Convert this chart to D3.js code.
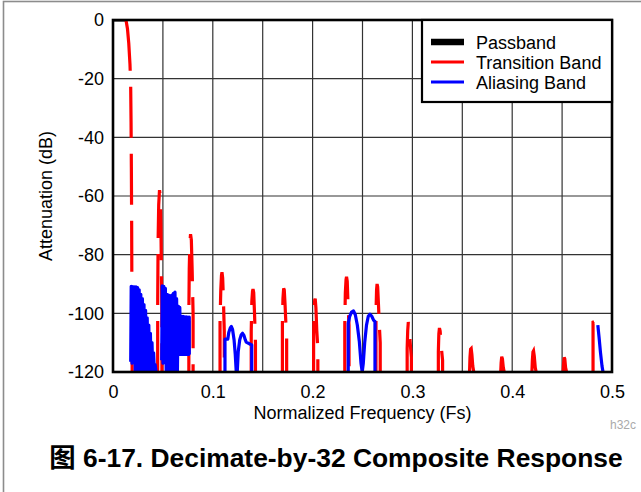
<!DOCTYPE html>
<html>
<head>
<meta charset="utf-8">
<script src="https://cdn.jsdelivr.net/npm/d3@7"></script>
<style>
body { margin: 0; background: #fff; }
svg text { font-family: "Liberation Sans", Arial, "Noto Sans CJK SC", sans-serif; }
</style>
</head>
<body>
<svg id="chart" width="641" height="492"></svg>
<script>
// Axis ticks and grid
const xTicks = [0, 0.1, 0.2, 0.3, 0.4, 0.5];
const yTicks = [0, -20, -40, -60, -80, -100, -120];
const xGrid = [0.05, 0.1, 0.15, 0.2, 0.25, 0.3, 0.35, 0.4, 0.45];
const yGrid = [-20, -40, -60, -80, -100];

// Passband (sits on the 0 dB border)
const passband = [[0, 0], [0.0135, 0]];

// Transition band segments [freq, dB]
const transitionBand = [
    [[0.0130, 0], [0.0145, -3], [0.0158, -8], [0.0170, -15], [0.0177, -22], [0.0181, -35], [0.0184, -50], [0.0187, -70], [0.0189, -90], [0.0191, -110], [0.0192, -120]],
    [[0.04475, -120], [0.0448, -95], [0.0452, -75], [0.0458, -63], [0.0466, -58], [0.0474, -60], [0.0480, -70], [0.0485, -85], [0.0490, -100], [0.0490, -120]],
    [[0.0760, -120], [0.0760, -100], [0.0764, -85], [0.0770, -76], [0.0777, -73], [0.0785, -75], [0.0793, -85], [0.08025, -100], [0.08025, -120]],
    [[0.10725, -120], [0.10725, -103], [0.1080, -92], [0.1087, -87], [0.1092, -86], [0.1099, -88], [0.1107, -96], [0.1115, -106], [0.1115, -120]],
    [[0.1385, -120], [0.1385, -106], [0.1391, -96], [0.1398, -92.5], [0.1403, -91.7], [0.1410, -93], [0.1418, -100], [0.14275, -110], [0.14275, -120]],
    [[0.16975, -120], [0.16975, -103], [0.1703, -95], [0.1710, -91.5], [0.1716, -92], [0.1724, -97], [0.1733, -104], [0.1740, -108], [0.1740, -120]],
    [[0.2010, -120], [0.2010, -108], [0.2015, -99], [0.2021, -95.5], [0.2026, -95], [0.2033, -98], [0.2042, -106], [0.20525, -112], [0.20525, -120]],
    [[0.23225, -120], [0.23225, -104], [0.2328, -93], [0.2335, -88.5], [0.2340, -87.5], [0.2347, -89], [0.2355, -97], [0.2365, -104], [0.2365, -120]],
    [[0.2635, -120], [0.2635, -100], [0.2641, -92], [0.2646, -90], [0.2652, -91], [0.2660, -97], [0.2670, -105], [0.26775, -110], [0.26775, -120]],
    [[0.29475, -120], [0.29475, -112], [0.2953, -106], [0.2959, -103], [0.2966, -104], [0.2975, -109], [0.2990, -115], [0.2990, -120]],
    [[0.3260, -120], [0.3260, -113], [0.3265, -107], [0.3271, -105], [0.3278, -106], [0.3288, -111], [0.33025, -116], [0.33025, -120]],
    [[0.35725, -120], [0.3577, -115], [0.3583, -112.2], [0.3589, -112], [0.3596, -114], [0.3605, -118], [0.3615, -120]],
    [[0.3885, -120], [0.3889, -117], [0.3895, -114.8], [0.3902, -115.5], [0.3911, -118.5], [0.3920, -120]],
    [[0.41975, -120], [0.4202, -116], [0.4208, -113.2], [0.4214, -112.8], [0.4221, -114.5], [0.4231, -118.5], [0.4240, -120]],
    [[0.4510, -120], [0.4515, -117], [0.4521, -115], [0.4527, -115.5], [0.4535, -118.5], [0.4545, -120]],
    [[0.4810, -120], [0.4810, -103], [0.4825, -102.8], [0.4840, -102], [0.4852, -101.5], [0.4860, -102.5], [0.4865, -104]]
];

// Aliasing band segments [freq, dB]
const aliasingBand = [
    [[0.01774, -116.5], [0.01824, -90.8], [0.01904, -117], [0.01984, -90.9], [0.02064, -116], [0.02144, -91], [0.02224, -120], [0.02305, -91], [0.02385, -120], [0.02465, -91.2], [0.02545, -114], [0.02625, -92], [0.02705, -120], [0.02786, -93.5], [0.02866, -120], [0.02946, -95], [0.03026, -120], [0.03106, -97], [0.03186, -118], [0.03267, -99], [0.03347, -120], [0.03427, -101.5], [0.03507, -120], [0.03587, -104], [0.03667, -120], [0.03747, -106.8], [0.03828, -120], [0.03908, -110], [0.03988, -120], [0.04068, -113.5], [0.04148, -120], [0.04228, -117.5], [0.04309, -120]],
    [[0.04880, -116], [0.04930, -90.6], [0.05010, -117], [0.05090, -90.8], [0.05170, -116], [0.05250, -91.5], [0.05331, -120], [0.05411, -93.5], [0.05491, -120], [0.05571, -93.8], [0.05651, -120], [0.05731, -94], [0.05812, -120], [0.05892, -93.8], [0.05972, -120], [0.06052, -93.2], [0.06132, -120], [0.06212, -92.8], [0.06293, -120], [0.06373, -95], [0.06453, -120], [0.06533, -97.5], [0.06613, -114], [0.06693, -98], [0.06774, -114], [0.06854, -101], [0.06934, -114], [0.07014, -101], [0.07094, -114], [0.07174, -101.2], [0.07255, -114], [0.07335, -101.2], [0.07415, -114], [0.07495, -101.3], [0.07575, -114], [0.07645, -101.3], [0.07645, -114]],
    [[0.1122, -120], [0.1122, -108.8], [0.1150, -108.8], [0.1160, -106.5], [0.1175, -105], [0.1186, -104.5], [0.1198, -105.5], [0.1213, -109], [0.1225, -114], [0.1235, -120], [0.1245, -120], [0.1255, -113], [0.1270, -109], [0.1285, -107.3], [0.1298, -106.8], [0.1312, -107.5], [0.1325, -109], [0.1335, -109.8], [0.1390, -110.8], [0.1390, -120]],
    [[0.2357, -120], [0.2357, -103.4], [0.2372, -101], [0.2390, -99.6], [0.2410, -99.2], [0.2428, -100.5], [0.2448, -104], [0.2468, -109.5], [0.2485, -117], [0.2497, -120], [0.2508, -117], [0.2522, -110], [0.2540, -104], [0.2558, -101], [0.2575, -100.3], [0.2593, -101], [0.2612, -102.4], [0.2625, -102.8], [0.2625, -120]],
    [[0.4858, -104], [0.4870, -108], [0.4885, -113.5], [0.4900, -118], [0.4910, -120]]
];

const legendNames = ["Passband", "Transition Band", "Aliasing Band"];
const legendColors = ["#000000", "#ff0000", "#0000ff"];

const svg = d3.select("#chart");

// outer frame of the figure
svg.append("rect")
    .attr("x", 3.5).attr("y", 1.5)
    .attr("width", 700).attr("height", 600)
    .attr("fill", "none")
    .attr("stroke", "#8c8c8c")
    .attr("stroke-width", 1.6);

const plotLeft = 113, plotRight = 612, plotTop = 20, plotBottom = 372;
const x = d3.scaleLinear().domain([0, 0.5]).range([plotLeft, plotRight]);
const y = d3.scaleLinear().domain([-120, 0]).range([plotBottom, plotTop]);

svg.append("clipPath").attr("id", "plotClip")
    .append("rect")
    .attr("x", plotLeft).attr("y", plotTop)
    .attr("width", plotRight - plotLeft).attr("height", plotBottom - plotTop);

// grid
svg.append("g").selectAll("line").data(xGrid).join("line")
    .attr("x1", d => x(d)).attr("x2", d => x(d))
    .attr("y1", plotTop).attr("y2", plotBottom)
    .attr("stroke", "#333").attr("stroke-width", 1.2);
svg.append("g").selectAll("line").data(yGrid).join("line")
    .attr("x1", plotLeft).attr("x2", plotRight)
    .attr("y1", d => y(d)).attr("y2", d => y(d))
    .attr("stroke", "#333").attr("stroke-width", 1.2);

const line = d3.line().x(d => x(d[0])).y(d => y(d[1]));
const plot = svg.append("g").attr("clip-path", "url(#plotClip)");

plot.append("path").datum(passband)
    .attr("d", line).attr("fill", "none")
    .attr("stroke", "#000").attr("stroke-width", 3);

plot.selectAll("path.trans").data(transitionBand).join("path")
    .attr("class", "trans")
    .attr("d", line).attr("fill", "none")
    .attr("stroke", "#ff0000").attr("stroke-width", 3.2)
    .attr("stroke-dasharray", "51,16");

plot.selectAll("path.alias").data(aliasingBand).join("path")
    .attr("class", "alias")
    .attr("d", line).attr("fill", "none")
    .attr("stroke", "#0000ff").attr("stroke-width", 3.2)
    .attr("stroke-linejoin", "round");

// axes (labels only, grid does the rest)
const xAxis = svg.append("g")
    .attr("transform", `translate(0,${plotBottom})`)
    .call(d3.axisBottom(x).tickValues(xTicks).tickSize(0).tickPadding(13).tickFormat(d => String(d)));
xAxis.select(".domain").remove();
xAxis.selectAll("text").attr("font-size", 18).attr("fill", "#000")
    .style("font-family", "'Liberation Sans', Arial, sans-serif");

const yAxis = svg.append("g")
    .attr("transform", `translate(${plotLeft},0)`)
    .call(d3.axisLeft(y).tickValues(yTicks).tickSize(0).tickPadding(9).tickFormat(d => String(d)));
yAxis.select(".domain").remove();
yAxis.selectAll("text").attr("font-size", 18).attr("fill", "#000")
    .style("font-family", "'Liberation Sans', Arial, sans-serif");

// plot border
svg.append("rect")
    .attr("x", plotLeft).attr("y", plotTop)
    .attr("width", plotRight - plotLeft).attr("height", plotBottom - plotTop)
    .attr("fill", "none").attr("stroke", "#000").attr("stroke-width", 2.6);

// legend
const lg = svg.append("g");
lg.append("rect")
    .attr("x", 422).attr("y", plotTop)
    .attr("width", plotRight - 422).attr("height", 82)
    .attr("fill", "#fff").attr("stroke", "#000").attr("stroke-width", 2.2);
legendNames.forEach((name, i) => {
    const ly = 42 + i * 20;
    lg.append("line")
        .attr("x1", 431).attr("x2", 464)
        .attr("y1", ly).attr("y2", ly)
        .attr("stroke", legendColors[i])
        .attr("stroke-width", i === 0 ? 6.5 : 3.2);
    lg.append("text")
        .attr("x", 476).attr("y", ly + 6.5)
        .attr("font-size", 18)
        .text(name);
});

// axis titles
svg.append("text")
    .attr("x", (plotLeft + plotRight) / 2).attr("y", 419)
    .attr("text-anchor", "middle")
    .attr("font-size", 18)
    .text("Normalized Frequency (Fs)");

svg.append("text")
    .attr("transform", "translate(52,196) rotate(-90)")
    .attr("text-anchor", "middle")
    .attr("font-size", 18)
    .text("Attenuation (dB)");

// figure id and caption
svg.append("text")
    .attr("x", 636).attr("y", 429)
    .attr("text-anchor", "end")
    .attr("font-size", 12)
    .attr("fill", "#aaaaaa")
    .text("h32c");

svg.append("text")
    .attr("x", 336).attr("y", 467)
    .attr("text-anchor", "middle")
    .attr("font-size", 26.4)
    .attr("font-weight", "bold")
    .text("图 6-17. Decimate-by-32 Composite Response");
</script>
</body>
</html>
